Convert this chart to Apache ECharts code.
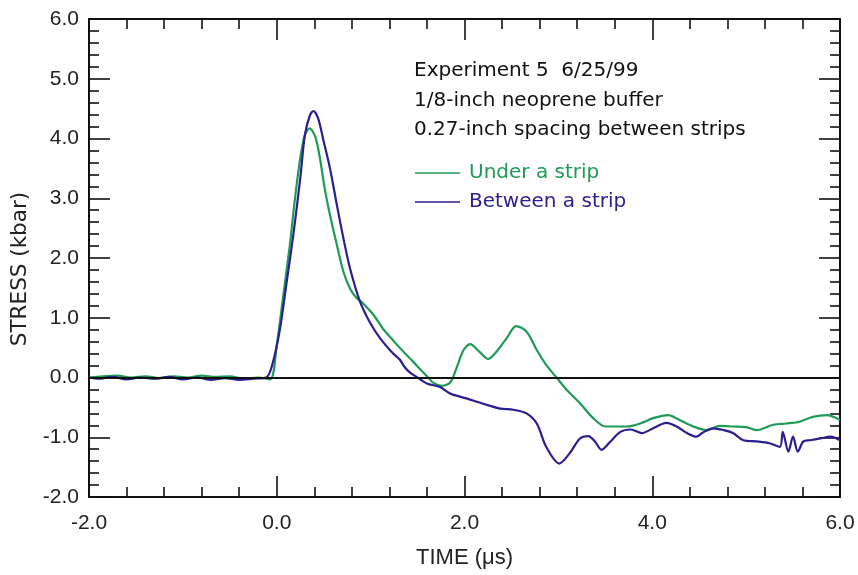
<!DOCTYPE html>
<html>
<head>
<meta charset="utf-8">
<script src="https://cdn.jsdelivr.net/npm/echarts@6/dist/echarts.min.js"></script>
<style>
html,body{margin:0;padding:0;background:#fff;}
#chart{width:858px;height:575px;}
</style>
</head>
<body>
<div id="chart"></div>
<script>
// ---- data ----
const underTime = [-2.0,-1.85,-1.7,-1.55,-1.4,-1.25,-1.1,-0.95,-0.8,-0.65,-0.5,-0.35,-0.2,-0.07,
  0.0,0.07,0.14,0.19,0.25,0.30,0.35,0.41,0.46,0.51,0.567,0.64,0.71,0.78,0.85,0.92,1.03,1.13,1.24,1.31,1.38,1.45,1.52,1.60,1.67,1.76,1.85,1.92,1.99,2.06,2.16,2.25,2.34,2.45,2.55,2.66,2.77,2.87,2.98,3.09,3.23,3.37,3.50,3.62,3.73,3.87,4.01,4.17,4.29,4.44,4.58,4.72,4.86,5.00,5.11,5.29,5.43,5.57,5.71,5.86,6.0];
const underStress = [0.0,0.02,0.03,0.0,0.02,-0.01,0.02,0.0,0.03,0.01,0.02,-0.02,0.0,-0.03,
  0.54,1.38,2.22,2.94,3.67,4.06,4.17,4.03,3.67,3.17,2.72,2.22,1.77,1.49,1.33,1.24,1.05,0.82,0.62,0.50,0.38,0.27,0.15,0.02,-0.09,-0.14,-0.08,0.18,0.46,0.56,0.43,0.31,0.43,0.66,0.86,0.77,0.46,0.21,0.0,-0.21,-0.43,-0.68,-0.82,-0.82,-0.82,-0.77,-0.68,-0.63,-0.71,-0.82,-0.88,-0.81,-0.82,-0.83,-0.88,-0.79,-0.77,-0.74,-0.66,-0.63,-0.71];

const betweenTime = [-2.0,-1.9,-1.75,-1.6,-1.45,-1.3,-1.15,-1.0,-0.85,-0.7,-0.55,-0.4,-0.25,-0.11,
  -0.04,0.035,0.106,0.176,0.25,0.30,0.354,0.39,0.44,0.50,0.567,0.64,0.71,0.78,0.887,0.99,1.10,1.24,1.31,1.36,1.42,1.49,1.60,1.74,1.85,2.02,2.20,2.38,2.52,2.66,2.77,2.87,3.01,3.12,3.23,3.32,3.39,3.46,3.55,3.66,3.77,3.89,4.01,4.15,4.26,4.37,4.47,4.54,4.65,4.76,4.86,4.97,5.11,5.25,5.36,5.39,5.45,5.50,5.55,5.61,5.68,5.79,5.90,6.0];
const betweenStress = [0.0,-0.02,0.01,-0.03,0.0,-0.02,0.01,-0.03,0.0,-0.04,-0.01,-0.04,-0.02,0.0,
  0.26,0.82,1.60,2.38,3.33,4.06,4.39,4.46,4.34,3.95,3.50,2.89,2.33,1.83,1.27,0.93,0.66,0.40,0.30,0.18,0.08,0.01,-0.10,-0.16,-0.27,-0.35,-0.44,-0.52,-0.54,-0.60,-0.77,-1.16,-1.44,-1.27,-1.02,-0.98,-1.07,-1.21,-1.08,-0.91,-0.87,-0.93,-0.85,-0.76,-0.82,-0.93,-0.99,-0.92,-0.85,-0.88,-0.93,-1.05,-1.07,-1.10,-1.16,-0.91,-1.24,-0.99,-1.24,-1.07,-1.05,-1.02,-0.99,-1.05];

const seriesNames = ['Under a strip','Between a strip'];
const annotationLines = ['Experiment 5  6/25/99','1/8-inch neoprene buffer','0.27-inch spacing between strips'];
const xTitle = 'TIME (\u03bcs)';
const yTitle = 'STRESS (kbar)';
const xTicks = {min:-2, max:6, interval:2};
const yTicks = {min:-2, max:6, interval:1};

const GREEN = '#1f9a57';
const BLUE = '#2a1f8f';
const axisFont = 'Liberation Sans, Arial, sans-serif';
const noteFont = 'DejaVu Sans, sans-serif';

function pairs(t, v){ return t.map((x,i)=>[x, v[i]]); }

function xAx(pos, showLabel){
  return {
    type:'value', position:pos, min:xTicks.min, max:xTicks.max, interval:xTicks.interval,
    axisLine:{show:true, onZero:false, lineStyle:{color:'#111', width:2}},
    axisTick:{show:true, inside:true, length:21, lineStyle:{color:'#111', width:1.6}},
    minorTick:{show:true, splitNumber:5, length:10, lineStyle:{color:'#111', width:1.6}},
    splitLine:{show:false},
    axisLabel:{show:showLabel, margin:16, fontSize:21, color:'#222', fontFamily:axisFont,
      formatter:v=>v.toFixed(1)},
    name: showLabel ? xTitle : '', nameLocation:'middle', nameGap:50,
    nameTextStyle:{fontSize:22, color:'#222', fontFamily:axisFont}
  };
}
function yAx(pos, showLabel){
  return {
    type:'value', position:pos, min:yTicks.min, max:yTicks.max, interval:yTicks.interval,
    axisLine:{show:true, onZero:false, lineStyle:{color:'#111', width:2}},
    axisTick:{show:true, inside:true, length:21, lineStyle:{color:'#111', width:1.6}},
    minorTick:{show:true, splitNumber:5, length:10, lineStyle:{color:'#111', width:1.6}},
    splitLine:{show:false},
    axisLabel:{show:showLabel, margin:10, fontSize:21, color:'#222', fontFamily:axisFont,
      formatter:v=>v.toFixed(1)}
  };
}

const chart = echarts.init(document.getElementById('chart'), null, {renderer:'canvas'});
chart.setOption({
  animation:false,
  backgroundColor:'#fff',
  grid:{left:89, right:18, top:19, bottom:78, containLabel:false},
  xAxis:[xAx('bottom', true), xAx('top', false)],
  yAxis:[yAx('left', true), yAx('right', false)],
  legend:{
    orient:'vertical', left:415, top:163, padding:0, itemWidth:45, itemHeight:20, itemGap:9,
    icon:'path://M0,9.2 L45,9.2 L45,10.8 L0,10.8 Z',
    textStyle:{fontSize:20, fontFamily:noteFont, padding:[0,0,0,4]},
    data:[
      {name:seriesNames[0], itemStyle:{color:GREEN}, textStyle:{color:GREEN}},
      {name:seriesNames[1], itemStyle:{color:BLUE}, textStyle:{color:BLUE}}
    ]
  },
  graphic: annotationLines.map((s,i)=>({
    type:'text', left:414, top:61 + i*29.5,
    style:{text:s, fontSize:20, fontFamily:noteFont, fill:'#111'}
  })).concat([{
    type:'text', x:20, y:269, rotation:Math.PI/2,
    style:{text:yTitle, fontSize:21.5, fontFamily:noteFont, fill:'#222', align:'center', verticalAlign:'middle'}
  }]),
  series:[
    {name:seriesNames[0], type:'line', data:pairs(underTime, underStress), symbol:'none',
      smooth:0.3, lineStyle:{color:GREEN, width:2.2}, itemStyle:{color:GREEN},
      markLine:{silent:true, symbol:'none', label:{show:false},
        lineStyle:{color:'#111', width:2, type:'solid'}, data:[{yAxis:0}]}},
    {name:seriesNames[1], type:'line', data:pairs(betweenTime, betweenStress), symbol:'none',
      smooth:0.3, lineStyle:{color:BLUE, width:2.2}, itemStyle:{color:BLUE}}
  ]
});
</script>
</body>
</html>
